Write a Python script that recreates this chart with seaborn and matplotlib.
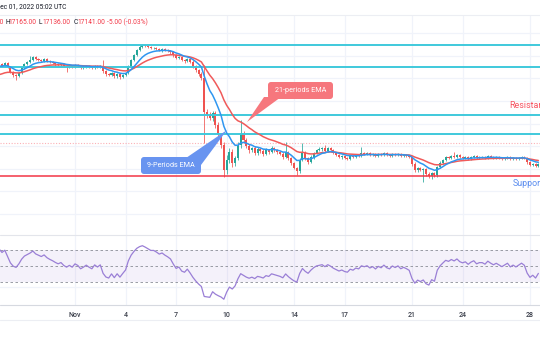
import numpy as np
import pandas as pd
import matplotlib
matplotlib.use("Agg")
import matplotlib.pyplot as plt
from matplotlib.patches import FancyBboxPatch, Polygon
import seaborn as sns

# ---- BTC/USD, 4-hour candles -------------------------------------------------
# lead-in closes (Oct 25 12:00 .. Oct 27 08:00), only used to warm up EMA / RSI
lead_closes = [19300, 19350, 20200, 20500, 20350, 20700,
               20600, 20850, 20650, 20800, 20700, 20650]

# visible candles, Oct 27 12:00 onward
closes = [
    20640, 20550, 20680, 20500, 20280, 20150, 20100, 20240, 20460, 20630, 20720, 20810,
    20940, 20850, 20810, 20770, 20850, 20770, 20720, 20680, 20630, 20590, 20630, 20550,
    20500, 20550, 20500, 20590, 20550, 20460, 20500, 20550, 20500, 20460, 20550, 20500,
    20550, 20320, 20190, 20150, 20240, 20100, 20190, 20060, 20150, 20240, 20545, 20810,
    21030, 21250, 21390, 21470, 21430, 21385, 21340, 21340, 21300, 21250, 21300, 21250,
    21210, 21160, 21030, 20900, 20940, 20810, 20770, 20850, 20720, 20545, 20370, 20190,
    20015, 18510, 18380, 18250, 18470, 17940, 17500, 17050, 15950, 16390, 16740, 16250,
    16480, 17050, 17540, 17280, 17010, 16830, 16920, 16700, 16880, 16790, 16660, 16830,
    16740, 16920, 16830, 16740, 16660, 16520, 16740, 16480, 16250, 16030, 15900, 16390,
    16740, 16480, 16300, 16520, 16700, 16830, 16880, 16920, 16790, 16920, 16830, 16700,
    16610, 16520, 16570, 16480, 16440, 16570, 16520, 16610, 16570, 16700, 16660, 16700,
    16610, 16660, 16570, 16660, 16610, 16700, 16610, 16570, 16660, 16610, 16660, 16570,
    16610, 16570, 16520, 16210, 15950, 16030, 15950, 15990, 15770, 15680, 15820, 15730,
    16080, 16260, 16390, 16520, 16480, 16570, 16520, 16610, 16520, 16480, 16520, 16440,
    16520, 16570, 16480, 16520, 16520, 16480, 16570, 16520, 16480, 16520, 16480, 16440,
    16480, 16520, 16440, 16480, 16440, 16480, 16520, 16480, 16300, 16170, 16210, 16120,
    16210,
]

# upper / lower shadow lengths (USD)
wick_up = [
    40, 60, 50, 40, 30, 50, 40, 60, 50, 70, 40, 200,
    60, 50, 40, 70, 50, 40, 60, 40, 50, 60, 40, 50,
    40, 60, 50, 40, 60, 50, 40, 50, 60, 40, 50, 40,
    60, 260, 50, 40, 60, 50, 40, 50, 60, 40, 50, 60,
    50, 60, 70, 40, 50, 60, 40, 50, 60, 40, 50, 40,
    60, 50, 40, 70, 50, 60, 40, 50, 60, 80, 50, 60,
    90, 575, 120, 150, 90, 100, 120, 80, 150, 200, 160, 120,
    100, 120, 620, 150, 90, 80, 60, 90, 70, 60, 80, 70,
    60, 70, 60, 50, 60, 70, 445, 60, 50, 70, 60, 80,
    400, 60, 50, 70, 60, 50, 70, 60, 130, 50, 60, 50,
    40, 60, 50, 40, 60, 50, 40, 60, 50, 260, 40, 50,
    60, 40, 50, 60, 40, 50, 60, 40, 50, 40, 60, 50,
    40, 50, 60, 40, 80, 60, 70, 50, 60, 70, 50, 60,
    50, 70, 60, 50, 60, 40, 170, 50, 60, 40, 50, 60,
    40, 50, 60, 40, 50, 40, 60, 50, 40, 50, 60, 40,
    50, 40, 60, 50, 40, 50, 60, 40, 50, 60, 40, 50,
    40,
]
wick_dn = [
    50, 40, 60, 50, 60, 70, 170, 50, 40, 60, 50, 40,
    50, 40, 60, 50, 40, 60, 50, 40, 60, 50, 40, 60,
    220, 50, 40, 60, 50, 40, 60, 50, 40, 60, 50, 40,
    50, 60, 80, 60, 50, 70, 60, 90, 50, 60, 40, 50,
    40, 50, 40, 60, 50, 40, 60, 50, 40, 50, 60, 40,
    50, 60, 70, 50, 60, 40, 70, 50, 60, 80, 90, 70,
    100, 1370, 130, 100, 150, 120, 160, 130, 310, 200, 150, 180,
    120, 100, 150, 120, 90, 110, 80, 90, 70, 80, 90, 60,
    70, 60, 80, 70, 60, 90, 60, 70, 80, 60, 170, 90,
    60, 80, 90, 60, 70, 50, 60, 70, 50, 60, 70, 60,
    50, 60, 70, 50, 60, 70, 50, 60, 40, 50, 60, 50,
    40, 50, 60, 40, 50, 60, 50, 40, 60, 50, 40, 50,
    60, 50, 40, 70, 90, 80, 60, 540, 80, 100, 130, 100,
    80, 60, 50, 60, 50, 40, 60, 50, 40, 60, 50, 40,
    50, 60, 40, 50, 60, 40, 50, 60, 40, 50, 40, 60,
    50, 40, 60, 50, 40, 60, 50, 40, 70, 60, 50, 60,
    50,
]

resistance_levels = [21480, 20500, 18400, 17530]
support_level = 15680
last_price = 17141

tick_days = [0, 3, 6, 9, 13, 16, 20, 23, 27]          # days from Nov 1 00:00
tick_labels = ["Nov", "4", "7", "10", "14", "17", "21", "24", "28"]

header_time = "Dec 01, 2022 05:02 UTC"
ohlc = {"O": "17146.00", "H": "17165.00", "L": "17136.00", "C": "17141.00"}
change_text = "-5.00 (-0.03%)"

# ---- derived series ----------------------------------------------------------
all_close = pd.Series(lead_closes + closes, dtype=float)
n_lead = len(lead_closes)
t_all = -4.5 + (np.arange(len(all_close)) - n_lead) / 6.0

ema9 = all_close.ewm(span=9, adjust=False).mean()
ema21 = all_close.ewm(span=21, adjust=False).mean()
delta = all_close.diff().fillna(0.0)
avg_gain = delta.clip(lower=0).ewm(alpha=1 / 14, adjust=False).mean()
avg_loss = (-delta.clip(upper=0)).ewm(alpha=1 / 14, adjust=False).mean()
rsi = 100 - 100 / (1 + avg_gain / avg_loss.replace(0, np.nan))
rsi = rsi.fillna(100)

ind = pd.DataFrame({"t": t_all, "ema9": ema9, "ema21": ema21, "rsi": rsi})

c = np.array(closes, dtype=float)
o = all_close.values[n_lead - 1:-1]
t = t_all[n_lead:]
hi = np.maximum(o, c) + np.array(wick_up)
lo = np.minimum(o, c) - np.array(wick_dn)
up = c >= o
UP, DOWN = "#26a69a", "#ef5350"
col = np.where(up, UP, DOWN)

# ---- figure ------------------------------------------------------------------
sns.set_style("white")
plt.rcParams["font.family"] = ["Roboto", "DejaVu Sans"]

W, H = 540, 340
fig = plt.figure(figsize=(W / 100, H / 100), dpi=100)
fig.patch.set_facecolor("white")

PX_PER_DAY = 16.85
X0 = 75.0                      # pixel column of Nov 1
xlim = (-X0 / PX_PER_DAY, (W - X0) / PX_PER_DAY)

def fbox(top, bottom):
    return [0, 1 - bottom / H, 1, (bottom - top) / H]

ax = fig.add_axes(fbox(15, 235))
ax_rsi = fig.add_axes(fbox(235, 305), sharex=ax)
GRID = "#f0f3fa"

for a in (ax, ax_rsi):
    a.set_facecolor("white")
    for s in a.spines.values():
        s.set_visible(False)
    for d in tick_days:
        a.axvline(d, color=GRID, lw=0.9, zorder=0)

# price pane
ax.set_xlim(*xlim)
ax.set_ylim(13071, 22806)
for p in range(14000, 23000, 1000):
    ax.axhline(p, color=GRID, lw=0.9, zorder=0)

body = np.maximum(np.abs(c - o), 15)
ax.vlines(t, lo, hi, colors=col, lw=0.55, zorder=2)
ax.bar(t, body, bottom=np.minimum(o, c), width=0.12, color=col, linewidth=0, zorder=3)

for lvl in resistance_levels:
    ax.axhline(lvl, color="#3fc9dc", lw=1.4, zorder=4)
ax.axhline(support_level, color="#f23645", lw=1.1, zorder=4)
ax.axhline(last_price, color="#f7525f", lw=0.8, ls=(0, (1, 1.5)), alpha=0.45, zorder=1)

sns.lineplot(data=ind, x="t", y="ema21", ax=ax, color="#f05a5a", lw=1.1, zorder=5, legend=False)
sns.lineplot(data=ind, x="t", y="ema9", ax=ax, color="#2f96f0", lw=1.1, zorder=6, legend=False)
ax.set_xlabel("")
ax.set_ylabel("")
ax.tick_params(left=False, bottom=False, labelleft=False, labelbottom=False)

# RSI pane
ax_rsi.set_ylim(1.25, 88.75)
ax_rsi.axhspan(30, 70, color="#7e57c2", alpha=0.08, lw=0, zorder=0)
for lvl in (70, 50, 30):
    ax_rsi.axhline(lvl, color="#8a8d96", lw=0.6, ls=(0, (3, 3)), zorder=1)
ax_rsi.axhline(23.75, color=GRID, lw=0.9, zorder=0)
sns.lineplot(data=ind, x="t", y="rsi", ax=ax_rsi, color="#9a7fd6", lw=0.9, zorder=3, legend=False)
ax_rsi.set_xlabel("")
ax_rsi.set_ylabel("")
ax_rsi.set_xticks(tick_days)
ax_rsi.set_xticklabels(tick_labels, fontsize=5, color="#3a3e4a", fontweight="medium")
ax_rsi.tick_params(axis="x", length=0, pad=4.2)
ax_rsi.tick_params(left=False, labelleft=False)

# overlay in pixel space for panel rules, callouts and header text
ov = fig.add_axes([0, 0, 1, 1], zorder=10)
ov.set_xlim(0, W)
ov.set_ylim(H, 0)
ov.axis("off")
ov.patch.set_alpha(0)

ov.plot([0, W], [15, 15], color="#eceef3", lw=0.8)
ov.plot([0, W], [235, 235], color="#e3e5eb", lw=0.8)
ov.plot([0, W], [305, 305], color="#d6d9e0", lw=0.8)
ov.plot([0, W], [320, 320], color="#eceef3", lw=0.8)

# 21-period EMA callout
ov.add_patch(Polygon([(264, 97), (281, 97), (247, 122)], closed=True,
                     facecolor="#f6777d", edgecolor="none"))
ov.add_patch(FancyBboxPatch((268, 82), 65, 17, boxstyle="round,pad=0,rounding_size=3",
                            facecolor="#f6777d", edgecolor="none"))
ov.text(300.5, 90.5, "21-periods EMA", color="white", fontsize=5.2, ha="center", va="center")

# 9-period EMA callout
ov.add_patch(Polygon([(186, 158), (201, 165), (227, 130)], closed=True,
                     facecolor="#6894f0", edgecolor="none"))
ov.add_patch(FancyBboxPatch((141, 157), 60, 17, boxstyle="round,pad=0,rounding_size=3",
                            facecolor="#6894f0", edgecolor="none"))
ov.text(171, 165.5, "9-Periods EMA", color="white", fontsize=5.2, ha="center", va="center")

ov.text(509, 106, "Resistance", color="#f7525f", fontsize=6.4, ha="left", va="center")
ov.text(513, 183, "Support", color="#5b8def", fontsize=6.4, ha="left", va="center")

# header
DARK, RED = "#131722", "#f23645"
ov.text(-4, 7, header_time, color=DARK, fontsize=4.8, ha="left", va="center")
ov.text(3.5, 22.5, "O" + ohlc["O"], color=RED, fontsize=4.8, ha="right", va="center")
for key, x in (("H", 5), ("L", 38.5), ("C", 73.5)):
    ov.text(x, 22.5, key, color=DARK, fontsize=4.8, ha="left", va="center")
    ov.text(x + 3.6, 22.5, ohlc[key], color=RED, fontsize=4.8, ha="left", va="center")
ov.text(107, 22.5, change_text, color=RED, fontsize=4.8, ha="left", va="center")

fig.savefig("out.png", dpi=100, facecolor="white")
